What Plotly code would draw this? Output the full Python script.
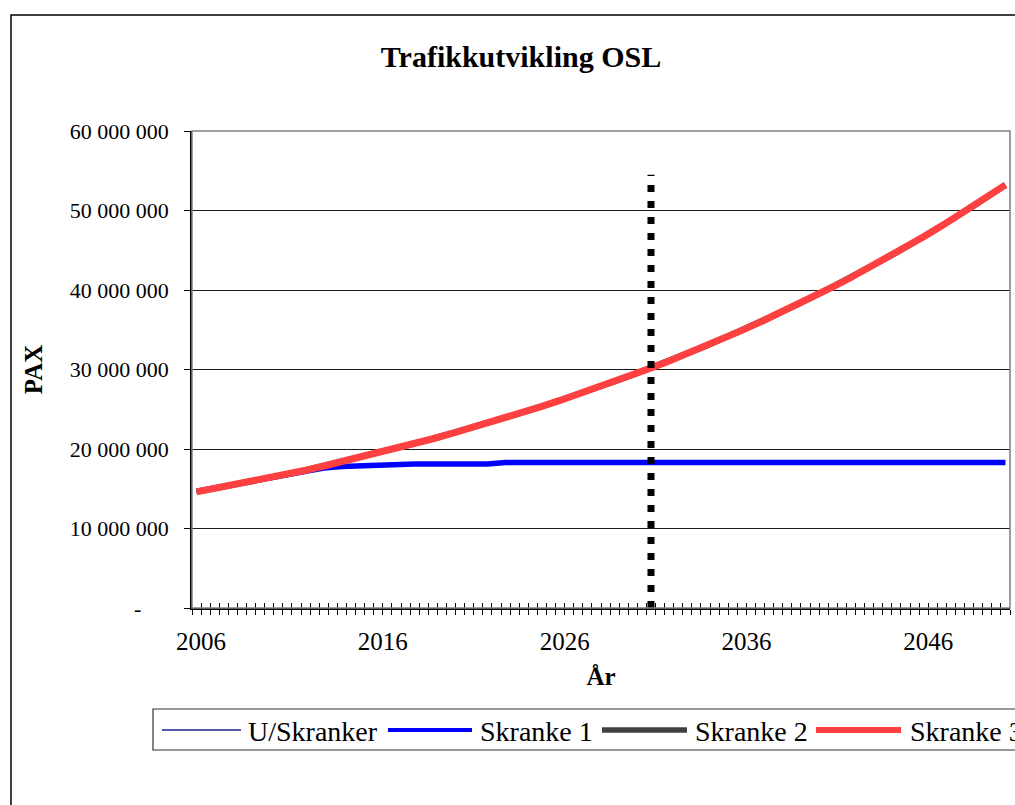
import plotly.graph_objects as go

# ---------------- data ----------------
YEARS = [2006, 2007, 2008, 2009, 2010, 2011, 2012, 2013, 2014, 2015,
         2016, 2017, 2018, 2019, 2020, 2021, 2022, 2023, 2024, 2025,
         2026, 2027, 2028, 2029, 2030, 2031, 2032, 2033, 2034, 2035,
         2036, 2037, 2038, 2039, 2040, 2041, 2042, 2043, 2044, 2045,
         2046, 2047, 2048, 2049, 2050, 2050.5]

U_SKRANKER = [14.60, 15.02, 15.44, 15.87, 16.33, 16.82, 17.33, 17.86, 18.40, 18.95,
              19.51, 20.09, 20.68, 21.29, 21.92, 22.57, 23.24, 23.92, 24.63, 25.36,
              26.11, 26.88, 27.67, 28.49, 29.33, 30.19, 31.08, 32.00, 32.94, 33.92,
              34.92, 35.95, 37.01, 38.10, 39.22, 40.38, 41.57, 42.79, 44.06, 45.36,
              46.69, 48.07, 49.49, 50.95, 52.45, 53.22]

SKRANKE_1 = [14.70, 15.12, 15.54, 15.97, 16.43, 16.92, 17.30, 17.60, 17.80, 17.90,
             17.95, 18.10, 18.10, 18.10, 18.10, 18.10, 18.10, 18.30, 18.30, 18.30,
             18.30, 18.30, 18.30, 18.30, 18.30, 18.30, 18.30, 18.30, 18.30, 18.30,
             18.30, 18.30, 18.30, 18.30, 18.30, 18.30, 18.30, 18.30, 18.30, 18.30,
             18.30, 18.30, 18.30, 18.30, 18.30, 18.30]

SKRANKE_2 = [14.60, 15.02, 15.44, 15.87, 16.33, 16.82, 17.33, 17.86, 18.40, 18.95,
             19.51, 20.09, 20.68, 21.29, 21.92, 22.57, 23.24, 23.92, 24.63, 25.36,
             26.11, 26.88, 27.67, 28.49, 29.33, 30.19, 31.08, 32.00, 32.94, 33.92,
             34.92, 35.95, 37.01, 38.10, 39.22, 40.38, 41.57, 42.79, 44.06, 45.36,
             46.69, 48.07, 49.49, 50.95, 52.45, 53.22]

SKRANKE_3 = [14.60, 15.02, 15.44, 15.87, 16.33, 16.82, 17.33, 17.86, 18.40, 18.95,
             19.51, 20.09, 20.68, 21.29, 21.92, 22.57, 23.24, 23.92, 24.63, 25.36,
             26.11, 26.88, 27.67, 28.49, 29.33, 30.19, 31.08, 32.00, 32.94, 33.92,
             34.92, 35.95, 37.01, 38.10, 39.22, 40.38, 41.57, 42.79, 44.06, 45.36,
             46.69, 48.07, 49.49, 50.95, 52.45, 53.22]

MARKER_YEAR = [2031, 2031]
MARKER_PAX = [0.0, 54.5]

SERIES_NAMES = ["U/Skranker", "Skranke 1", "Skranke 2", "Skranke 3"]
X_TICK_VALS = [2006.25, 2016.25, 2026.25, 2036.25, 2046.25]
X_TICK_TEXT = ["2006", "2016", "2026", "2036", "2046"]
Y_TICK_VALS = [0, 10, 20, 30, 40, 50, 60]
Y_TICK_TEXT = ["-" + "\u00a0" * 5, "10 000 000", "20 000 000", "30 000 000",
               "40 000 000", "50 000 000", "60 000 000"]
TITLE = "Trafikkutvikling OSL"
X_TITLE = "År"
Y_TITLE = "PAX"

M = 1_000_000
FONT = "Liberation Serif, Times New Roman, serif"

# ---------------- styles ----------------
styles = {
    "U/Skranker": dict(color="#1f1f8f", width=1.5),
    "Skranke 1": dict(color="#0000ff", width=5.5),
    "Skranke 2": dict(color="#404040", width=6),
    "Skranke 3": dict(color="#ff4040", width=7),
}
values = {
    "U/Skranker": U_SKRANKER,
    "Skranke 1": SKRANKE_1,
    "Skranke 2": SKRANKE_2,
    "Skranke 3": SKRANKE_3,
}

fig = go.Figure()
for name in ["U/Skranker", "Skranke 2", "Skranke 1", "Skranke 3"]:
    fig.add_trace(go.Scatter(
        x=YEARS, y=[v * M for v in values[name]], mode="lines", name=name,
        line=dict(color=styles[name]["color"], width=styles[name]["width"]),
        showlegend=False, xaxis="x", yaxis="y"))

fig.add_trace(go.Scatter(
    x=MARKER_YEAR, y=[v * M for v in MARKER_PAX], mode="lines",
    line=dict(color="black", width=7, dash="7px,9px"),
    showlegend=False, xaxis="x2", yaxis="y"))

# ---------------- geometry ----------------
W, H = 1015, 805
PL, PR, PT, PB = 192, 1010, 131, 608     # plot area on screen
L = PL
R = W - PR
T = PT
B = H - PB
PW = PR - PL
PH = PB - PT


def px(xs):
    return (xs - PL) / PW


def py(ys):
    return (PB - ys) / PH


XR = [2005.75, 2050.75]

shapes = []
# outer chart border
shapes.append(dict(type="rect", xref="paper", yref="paper",
                   x0=px(11), x1=px(1100), y0=py(900), y1=py(15),
                   line=dict(color="black", width=1.5), layer="below"))
# plot area border
shapes.append(dict(type="rect", xref="paper", yref="paper",
                   x0=0, x1=1, y0=0, y1=1,
                   line=dict(color="#808080", width=1.5), layer="above"))
# legend box
shapes.append(dict(type="rect", xref="paper", yref="paper",
                   x0=px(153), x1=px(1100), y0=py(750), y1=py(709),
                   line=dict(color="#333333", width=1.2), layer="below"))

annotations = []
legend_y = 730
legend_items = [(162, 241, 246), (388, 472, 478), (602, 687, 693), (816, 901, 908)]
legend_widths = {"U/Skranker": 1.5, "Skranke 1": 4, "Skranke 2": 5.5, "Skranke 3": 6}
for name, (lx0, lx1, tx) in zip(SERIES_NAMES, legend_items):
    shapes.append(dict(type="line", xref="paper", yref="paper",
                       x0=px(lx0), x1=px(lx1), y0=py(legend_y), y1=py(legend_y),
                       line=dict(color=styles[name]["color"], width=legend_widths[name])))
    annotations.append(dict(xref="paper", yref="paper", x=px(tx), y=py(legend_y + 1),
                            xanchor="left", yanchor="middle", showarrow=False,
                            text=name, font=dict(family=FONT, size=28, color="black")))

fig.update_layout(
    width=W, height=H,
    margin=dict(l=L, r=R, t=T, b=B),
    paper_bgcolor="white", plot_bgcolor="white",
    showlegend=False,
    title=dict(text="<b>" + TITLE + "</b>", xref="paper", x=px(521), xanchor="center",
               yref="container", y=1 - 56 / H, yanchor="middle",
               font=dict(family=FONT, size=30, color="black")),
    xaxis=dict(range=XR, tickmode="array", tickvals=X_TICK_VALS, ticktext=X_TICK_TEXT,
               ticks="", showgrid=False, zeroline=False,
               showline=True, linecolor="black", linewidth=1.5,
               tickfont=dict(family=FONT, size=25, color="black"),
               ticklabelstandoff=10,
               minor=dict(tickmode="linear", tick0=2005.75, dtick=0.5, ticks="outside",
                          ticklen=5, tickcolor="black", tickwidth=1, showgrid=False),
               title=dict(text="<b>" + X_TITLE + "</b>", standoff=14,
                          font=dict(family=FONT, size=25, color="black"))),
    xaxis2=dict(range=XR, overlaying="x", anchor="y", side="bottom",
                tickmode="linear", tick0=2005.75, dtick=0.5, ticks="inside",
                ticklen=5, tickcolor="black", tickwidth=1,
                showticklabels=False, showgrid=False, zeroline=False, showline=False),
    yaxis=dict(range=[0, 60 * M], tickmode="array",
               tickvals=[v * M for v in Y_TICK_VALS], ticktext=Y_TICK_TEXT,
               ticks="outside", ticklen=6, tickcolor="black", tickwidth=1,
               showgrid=True, gridcolor="#1a1a1a", gridwidth=1, zeroline=False,
               showline=True, linecolor="black", linewidth=1.5,
               tickfont=dict(family=FONT, size=22, color="black"),
               ticklabelstandoff=11,
               title=dict(text="<b>" + Y_TITLE + "</b>", standoff=20,
                          font=dict(family=FONT, size=25, color="black"))),
    shapes=shapes,
    annotations=annotations,
)

fig.write_html(
    "out.html",
    config={"displayModeBar": False},
    post_script="document.body.style.margin='0';"
                "document.documentElement.style.overflow='hidden';",
)
